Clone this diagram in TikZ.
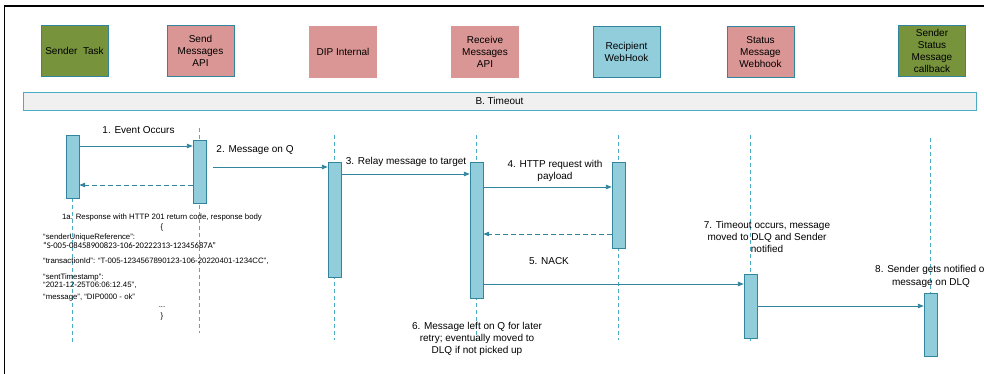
\documentclass[tikz,border=0pt]{standalone}
\usepackage{fontspec}
\setmainfont{Liberation Sans}
\newfontfamily\calfont{Carlito}
\usetikzlibrary{arrows.meta,backgrounds}

\definecolor{hdgreen}{HTML}{77933C}
\definecolor{hdpink}{HTML}{D99694}
\definecolor{hdblue}{HTML}{92CDDC}
\definecolor{barline}{HTML}{31859C}
\definecolor{lifecol}{HTML}{4BACC6}

\tikzset{
  hdbox/.style={draw=barline, minimum width=67pt, minimum height=51pt, align=center,
    inner sep=1pt, font=\fontsize{10}{12}\selectfont},
  actbar/.style={draw=barline, fill=hdblue, minimum width=13pt, inner sep=0pt},
  lifeline/.style={lifecol, line width=0.9pt, dash pattern=on 4pt off 3pt},
  msg/.style={barline, line width=0.9pt, -{Triangle[length=6pt,width=4.5pt]}},
  reply/.style={msg, dash pattern=on 5pt off 3pt},
  lbl/.style={align=center, inner sep=0pt, font=\fontsize{10}{12}\selectfont},
  jsonline/.style={anchor=west, inner sep=0pt, font=\fontsize{7.8}{9}\selectfont}
}

\begin{document}
\begin{tikzpicture}[x=1pt,y=-1pt]
  \useasboundingbox (0,0) rectangle (984,374);
  \draw[line width=1.7pt] (4.5,374) -- (4.5,6) -- (984,6);

  \node[hdbox, fill=hdgreen] (sender) at (74.5,50.5) {Sender\ \ Task};
  \node[hdbox, fill=hdpink] (sendapi) at (200.5,50.5) {Send\\Messages\\API};
  \node[hdbox, fill=hdpink, draw=hdpink] (dip) at (343,52) {DIP Internal};
  \node[hdbox, fill=hdpink, draw=hdpink] (recvapi) at (485,52) {Receive\\Messages\\API};
  \node[hdbox, fill=hdblue] (webhook) at (626.5,52) {Recipient\\WebHook};
  \node[hdbox, fill=hdpink] (statushook) at (760.5,52) {Status\\Message\\Webhook};
  \node[hdbox, fill=hdgreen] (callback) at (932,51) {Sender\\Status\\Message\\callback};

  \node[draw=lifecol, fill=black!6, minimum width=953pt, minimum height=18pt, inner sep=0pt,
    font=\fontsize{10}{12}\selectfont] (timeout) at (499.5,101) {B. Timeout};

  \node[actbar, minimum height=63pt] (act1) at (72.5,166.5) {};
  \node[actbar, minimum height=63pt] (act2) at (199.5,171.5) {};
  \node[actbar, minimum height=115pt] (act3) at (334.5,219.5) {};
  \node[actbar, minimum height=136pt] (act4) at (476.5,230) {};
  \node[actbar, minimum height=86pt] (act5) at (618.5,205) {};
  \node[actbar, minimum height=64pt] (act6) at (750.5,306) {};
  \node[actbar, minimum height=63pt] (act7) at (930.5,324.5) {};

  \begin{pgfonlayer}{background}
    \draw[lifeline] (act1.north) -- (act1 |- 0,343);
    \draw[lifeline] (act2 |- 0,128) -- (act2 |- 0,333);
    \draw[lifeline] (act3 |- 0,135) -- (act3 |- 0,340);
    \draw[lifeline] (act4 |- 0,135) -- (act4 |- 0,340);
    \draw[lifeline] (act5 |- 0,135) -- (act5 |- 0,340);
    \draw[lifeline] (act6 |- 0,135) -- (act6 |- 0,341);
    \draw[lifeline] (act7 |- 0,138) -- (act7.north);
  \end{pgfonlayer}

  \coordinate (q2) at (213,167);
  \draw[msg] (act1.east |- 0,146) -- (act2.west |- 0,146);
  \draw[reply] (act2.west |- 0,185) -- (act1.east |- 0,185);
  \draw[msg] (q2) -- (act3.west |- q2);
  \draw[msg] (act3.east |- 0,174) -- (act4.west |- 0,174);
  \draw[msg] (act4.east |- 0,187) -- (act5.west |- 0,187);
  \draw[reply] (act5.west |- 0,234) -- (act4.east |- 0,234);
  \draw[msg] (act4.east |- 0,284) -- (act6.west |- 0,284);
  \draw[msg] (act6.east |- 0,306) -- (act7.west |- 0,306);

  \node[lbl] (lbl1) at (138.5,130) {1. Event Occurs};
  \node[lbl] (lbl2) at (255,150) {2. Message on Q};
  \node[lbl] (lbl3) at (406,162) {3. Relay message to target};
  \node[lbl] (lbl4) at (555,170.5) {4. HTTP request with\\payload};
  \node[lbl] (lbl5) at (549,261) {5. NACK};
  \node[lbl] (lbl6) at (477,339) {6. Message left on Q for later\\retry; eventually moved to\\DLQ if not picked up};
  \node[lbl] (lbl7) at (767,237) {7. Timeout occurs, message\\moved to DLQ and Sender\\notified};
  \node[lbl, anchor=north west] (lbl8) at (875,265) {8. Sender gets notified of\\\hspace*{0pt}};
  \node[lbl] (lbl8b) at (931,283) {message on DLQ};

  \node[jsonline, anchor=center] (resp) at (162,217) {1a. Response with HTTP 201 return code, response body};
  \node[jsonline, anchor=center] (jopen) at (162,227) {\{};
  \node[jsonline] (j1) at (43,237) {“senderUniqueReference”:};
  \node[jsonline, font=\calfont\fontsize{8.6}{9}\selectfont] (j2) at (43,245.5) {“S-005-08458900823-106-20222313-12345687A”};
  \node[jsonline] (j3) at (43,261) {“transactionId”: “T-005-1234567890123-106-20220401-1234CC”,};
  \node[jsonline] (j4) at (43,277) {“sentTimestamp”:};
  \node[jsonline] (j5) at (43,285) {“2021-12-25T06:06:12.45”,};
  \node[jsonline] (j6) at (43,297) {“message”, “DIP0000 - ok”};
  \node[jsonline, anchor=center] (jdots) at (162,307) {...};
  \node[jsonline, anchor=center] (jclose) at (162,316) {\}};
\end{tikzpicture}
\end{document}
